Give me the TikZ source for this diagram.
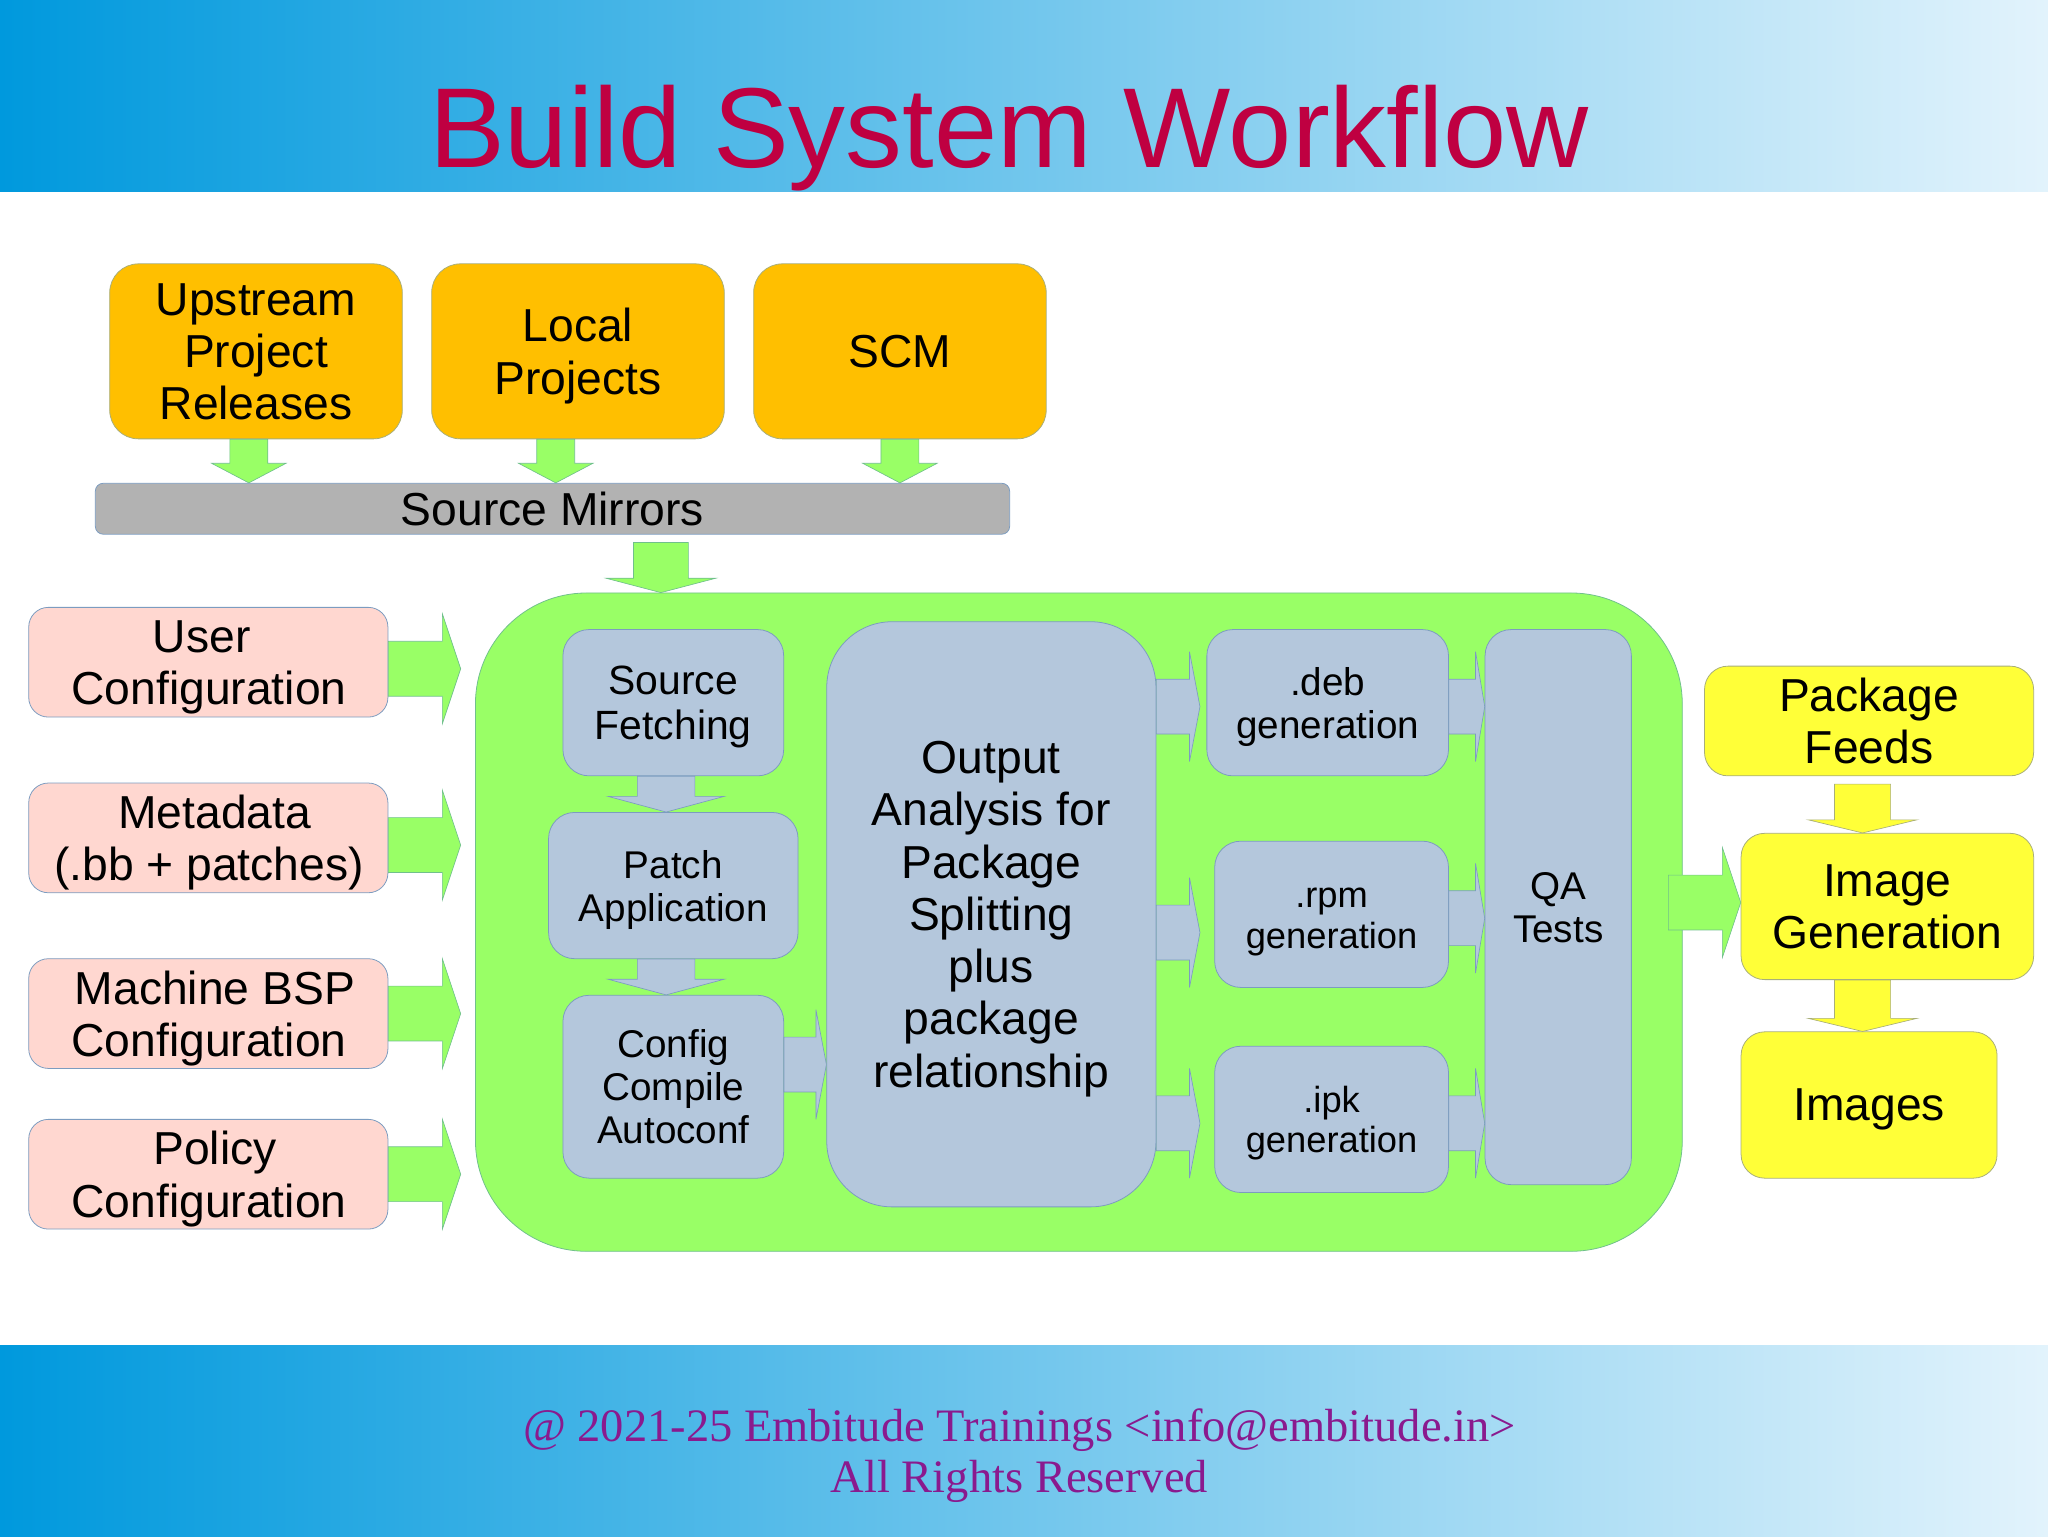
\documentclass[tikz,border=0pt]{standalone}
\usepackage{fontspec}
\setmainfont{Liberation Sans}
\newfontfamily\footfont{Liberation Serif}
\usetikzlibrary{calc}
\definecolor{bandl}{HTML}{0099DD}
\definecolor{bandr}{HTML}{E2F3FC}
\definecolor{titlered}{HTML}{BF0041}
\definecolor{footpurple}{HTML}{8A1A8E}
\definecolor{srcorange}{HTML}{FFBF00}
\definecolor{cfgpink}{HTML}{FFD7D0}
\definecolor{stageblue}{HTML}{B4C7DC}
\definecolor{resyellow}{HTML}{FFFF38}
\definecolor{flowgreen}{HTML}{99FF66}
\definecolor{mirrorgrey}{HTML}{B2B2B2}
\definecolor{edgeblue}{HTML}{7C9CC0}
\definecolor{edgeolive}{HTML}{A8AE7A}
\definecolor{edgegreen}{HTML}{70C08C}
\newcommand{\txtbig}{\fontsize{35.4}{40}\selectfont}
\newcommand{\txtmid}{\fontsize{31.3}{35}\selectfont}
\newcommand{\txtsmall}{\fontsize{29.6}{33}\selectfont}
\newcommand{\txtrpm}{\fontsize{27.8}{31}\selectfont}
\tikzstyle{box} = [rectangle, inner sep=0pt, align=center, text depth=0pt, line width=0.6pt, text=black]
\tikzstyle{src} = [box, minimum width=224pt, minimum height=134pt, rounded corners=22pt, font=\txtbig, draw=edgeolive, fill=srcorange]
\tikzstyle{mirror} = [box, minimum width=700pt, minimum height=39pt, rounded corners=6pt, font=\txtbig, draw=edgeblue, fill=mirrorgrey]
\tikzstyle{cfg} = [box, minimum width=275pt, minimum height=84pt, rounded corners=15pt, font=\txtbig, draw=edgeblue, fill=cfgpink]
\tikzstyle{flowbox} = [box, rounded corners=85pt, draw=edgegreen, fill=flowgreen]
\tikzstyle{stage} = [box, rounded corners=20pt, font=\txtsmall, draw=edgeblue, fill=stageblue]
\tikzstyle{result} = [box, rounded corners=18pt, font=\txtbig, draw=edgeolive, fill=resyellow]
\tikzstyle{greenarrow} = [draw=edgegreen, line width=0.5pt, fill=flowgreen]
\tikzstyle{bluearrow} = [draw=edgeblue, line width=0.5pt, fill=stageblue]
\tikzstyle{yellowarrow} = [draw=edgeolive, line width=0.5pt, fill=resyellow]
\tikzset{
  rarrow/.style n args={3}{to path={let \p1=(\tikztostart), \p2=(\tikztotarget) in
    (\x1,\y1+#1) -- (\x2-#3,\y1+#1) -- (\x2-#3,\y1+#2) -- (\x2,\y1)
    -- (\x2-#3,\y1-#2) -- (\x2-#3,\y1-#1) -- (\x1,\y1-#1) -- cycle}},
  darrow/.style n args={3}{to path={let \p1=(\tikztostart), \p2=(\tikztotarget) in
    (\x1-#1,\y1) -- (\x1-#1,\y2+#3) -- (\x1-#2,\y2+#3) -- (\x1,\y2)
    -- (\x1+#2,\y2+#3) -- (\x1+#1,\y2+#3) -- (\x1+#1,\y1) -- cycle}}
}
\begin{document}
\begin{tikzpicture}[x=1pt, y=-1pt]
    \useasboundingbox (0,0) rectangle (1568,1176);
    \fill [left color=bandl, right color=bandr] (0,0) rectangle (1568,146.5);
    \fill [left color=bandl, right color=bandr] (0,1030) rectangle (1568,1176);
    \node (title) [anchor=base, inner sep=0pt, text=titlered, font=\fontsize{87}{100}\selectfont] at (772.5,128) {Build System Workflow};
    \node (foot) [inner sep=0pt, align=center, text=footpurple, font=\footfont\fontsize{35.6}{39.5}\selectfont] at (780.5,1114.5) {@ 2021-25 Embitude Trainings <info@embitude.in>\\All Rights Reserved};

    % sources
    \node (up) [src] at (196,269) {Upstream\\Project\\Releases};
    \node (local) [src, node distance=246.5pt, right of=up] {Local\\Projects};
    \node (scm) [src, node distance=246.5pt, right of=local] {SCM};
    \node (mirrors) [mirror] at (423,389.5) {Source Mirrors};

    % configuration
    \node (user) [cfg] at (159.5,507) {User\hspace*{10pt}\\\hspace*{1pt}Configuration};
    \node (meta) [cfg, node distance=134.5pt, below of=user] {\hspace*{10pt}Metadata\\\hspace*{1pt}(.bb + patches)};
    \node (mach) [cfg, node distance=134.5pt, below of=meta] {\hspace*{10pt}Machine BSP\\\hspace*{1pt}Configuration};
    \node (policy) [cfg, node distance=123pt, below of=mach] {\hspace*{10pt}Policy\\\hspace*{1pt}Configuration};

    % build flow
    \node (flow) [flowbox, minimum width=924pt, minimum height=504pt] at (826,706) {};
    \node (fetch) [stage, minimum width=169pt, minimum height=112pt, font=\txtmid] at (515.5,538) {Source\\Fetching};
    \node (patch) [stage, minimum width=191pt, minimum height=112pt] at (515.5,678) {Patch\\Application};
    \node (conf) [stage, minimum width=169pt, minimum height=140pt] at (515.5,832) {Config\\Compile\\Autoconf};
    \node (split) [stage, minimum width=252pt, minimum height=448pt, rounded corners=50pt, font=\txtbig] at (759,700) {Output\\Analysis for\\Package\\Splitting\\plus\\package\\relationship};
    \node (deb) [stage, minimum width=185pt, minimum height=112pt] at (1016.5,538) {.deb\\generation};
    \node (rpm) [stage, minimum width=179pt, minimum height=112pt, font=\txtrpm] at (1019.5,700) {\rule{0pt}{21pt}.rpm\\generation};
    \node (ipk) [stage, minimum width=179pt, minimum height=112pt, font=\txtrpm] at (1019.5,857) {.ipk\\generation};
    \node (qa) [stage, minimum width=112pt, minimum height=425pt, font=\txtsmall] at (1193,694.5) {QA\\Tests};

    % outputs
    \node (feeds) [result, minimum width=252pt, minimum height=84pt] at (1431,552) {Package\\Feeds};
    \node (imgen) [result, minimum width=224pt, minimum height=112pt] at (1445,694) {Image\\Generation};
    \node (images) [result, minimum width=196pt, minimum height=112pt] at (1431,846) {Images};

    \draw [greenarrow, darrow={14.5pt}{28.5pt}{15pt}] ([xshift=-5.5pt]up.south) to (mirrors.north);
    \draw [greenarrow, darrow={14.5pt}{28.5pt}{15pt}] ([xshift=-17pt]local.south) to (mirrors.north);
    \draw [greenarrow, darrow={14.5pt}{28.5pt}{15pt}] (scm.south) to (mirrors.north);
    \draw [greenarrow, darrow={21pt}{42pt}{11pt}] ([shift={(83pt,-6pt)}]mirrors.south) to (flow.north);

    \draw [greenarrow, rarrow={21pt}{42pt}{14pt}] ([yshift=-5pt]user.east) to ([xshift=-11pt]flow.west);
    \draw [greenarrow, rarrow={21pt}{42pt}{14pt}] ([yshift=-5.5pt]meta.east) to ([xshift=-11pt]flow.west);
    \draw [greenarrow, rarrow={21pt}{42pt}{14pt}] (mach.east) to ([xshift=-11pt]flow.west);
    \draw [greenarrow, rarrow={21pt}{42pt}{14pt}] (policy.east) to ([xshift=-11pt]flow.west);

    \draw [bluearrow, darrow={22pt}{44.5pt}{12pt}] ([xshift=-5.5pt]fetch.south) to (patch.north);
    \draw [bluearrow, darrow={22pt}{44.5pt}{12pt}] ([xshift=-5.5pt]patch.south) to (conf.north);
    \draw [bluearrow, rarrow={21pt}{42pt}{8pt}] ([yshift=17pt]conf.east) to (split.west);

    \draw [bluearrow, rarrow={21pt}{42pt}{8pt}] ([yshift=-3pt]split.east |- deb) to ([xshift=-5pt]deb.west);
    \draw [bluearrow, rarrow={21pt}{42pt}{8pt}] ([yshift=-14pt]split.east |- rpm) to ([xshift=-11pt]rpm.west);
    \draw [bluearrow, rarrow={21pt}{42pt}{8pt}] ([yshift=-3pt]split.east |- ipk) to ([xshift=-11pt]ipk.west);
    \draw [bluearrow, rarrow={21pt}{42pt}{7pt}] ([yshift=-3pt]deb.east) to (qa.west);
    \draw [bluearrow, rarrow={21pt}{42pt}{7pt}] ([yshift=-3pt]rpm.east) to (qa.west);
    \draw [bluearrow, rarrow={21pt}{42pt}{7pt}] ([yshift=-3pt]ipk.east) to (qa.west);

    \draw [greenarrow, rarrow={21pt}{42pt}{14pt}] ([shift={(-11pt,15pt)}]flow.east) to (imgen.west);
    \draw [yellowarrow, darrow={21.5pt}{41.5pt}{10pt}] ([shift={(-5pt,-6pt)}]feeds.south) to (imgen.north);
    \draw [yellowarrow, darrow={21.5pt}{41.5pt}{10pt}] ([xshift=-19pt]imgen.south) to (images.north);
\end{tikzpicture}
\end{document}
